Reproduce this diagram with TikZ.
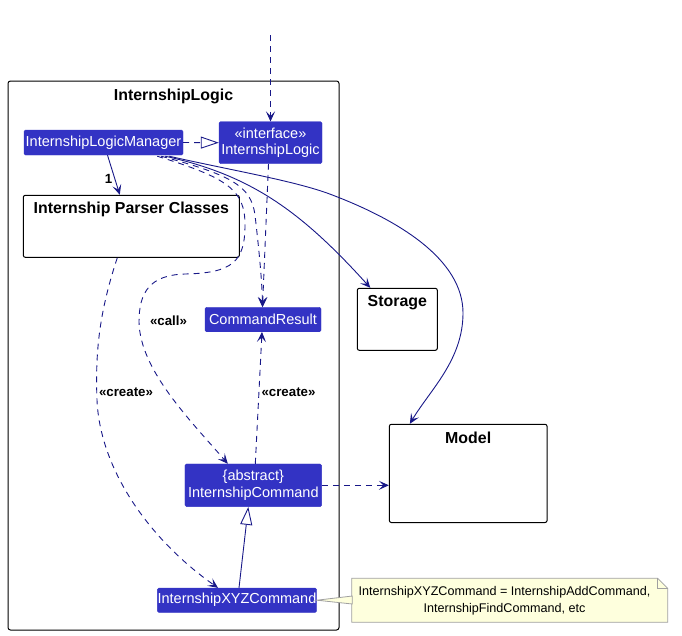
\documentclass[tikz,border=0pt]{standalone}
\usepackage{fontspec}
\setmainfont{Liberation Sans}
\usetikzlibrary{arrows.meta,calc}
\definecolor{logic}{HTML}{3333C4}
\definecolor{arr}{HTML}{181888}
\definecolor{notefill}{HTML}{FEFFDD}
\definecolor{noteline}{HTML}{A0A0A0}
\tikzset{
  cls/.style={fill=logic, draw=logic, text=white, font=\fontsize{14.5}{16.5}\selectfont,
    rounded corners=1.5pt, inner sep=0pt, align=center},
  pkg/.style={draw=black, line width=1pt, rounded corners=2pt, fill=white, inner sep=0pt},
  ptitle/.style={font=\fontsize{15.9}{18}\selectfont\bfseries, anchor=north, inner sep=0pt},
  lbl/.style={font=\fontsize{13.3}{15}\selectfont\bfseries, inner sep=0pt},
  conn/.style={draw=arr, line width=0.9pt},
  dep/.style={conn, dash pattern=on 6pt off 5pt, -{Stealth[length=10pt,width=9pt,inset=4.5pt]}},
  assoc/.style={conn, -{Stealth[length=10pt,width=9pt,inset=4.5pt]}},
  real/.style={conn, dash pattern=on 6pt off 5pt, -{Triangle[open,length=18pt,width=12pt]}},
  inh/.style={conn, -{Triangle[open,length=18pt,width=12pt]}},
}
\begin{document}
\begin{tikzpicture}[x=1pt,y=-1pt]
\useasboundingbox (0,0) rectangle (682,635);
% package frame
\draw[line width=1pt, rounded corners=2.5pt] (8,81) rectangle (339,630);
\node[ptitle] (pkgtitle) at (173.5,88.5) {InternshipLogic};
% nodes
\node[cls, minimum width=159pt, minimum height=25pt] (manager) at (103.5,142.5) {InternshipLogicManager};
\node[cls, minimum width=103pt, minimum height=42pt] (iface) at (270.5,142.7) {«interface»\\InternshipLogic};
\node[cls, minimum width=116pt, minimum height=24.5pt] (result) at (263,319.5) {CommandResult};
\node[cls, minimum width=136.7pt, minimum height=42.7pt] (cmd) at (253.3,485.3) {\{abstract\}\\InternshipCommand};
\node[cls, minimum width=159.4pt, minimum height=24.3pt] (xyz) at (237,600.2) {InternshipXYZCommand};
\node[pkg, minimum width=216pt, minimum height=62pt] (parser) at (131.3,226.3) {};
\node[ptitle] (parsert) at ($(parser.north)+(0,6.5)$) {Internship Parser Classes};
\node[pkg, minimum width=80pt, minimum height=62pt] (storage) at (397.3,319.3) {};
\node[ptitle] (storaget) at ($(storage.north)+(0,7)$) {Storage};
\node[pkg, minimum width=157.7pt, minimum height=98.2pt] (model) at (468.2,473.4) {};
\node[ptitle] (modelt) at ($(model.north)+(0,7.5)$) {Model};
% note
\path (351.7,578.3) coordinate (nA) (667.7,622.3) coordinate (nB);
\draw[draw=noteline, fill=notefill, line width=0.8pt]
  (nA) -- (657.7,578.3) -- (667.7,588.3) -- (nB) -- (351.7,622.3) -- cycle;
\draw[draw=noteline, line width=0.8pt] (657.7,578.3) -- (657.7,588.3) -- (667.7,588.3);
\node[font=\fontsize{12.6}{16.7}\selectfont, align=center, inner sep=0pt] (note) at (504.5,601)
  {InternshipXYZCommand = InternshipAddCommand,\\InternshipFindCommand, etc};
\coordinate (noteW) at (351.7,600);
\draw[draw=noteline, fill=notefill, line width=0.8pt]
  (xyz.east) -- ($(noteW)+(0.6,-4)$) -- ($(noteW)+(0.6,4)$) -- cycle;
% connectors
\coordinate (topstart) at (270.5,35);
\draw[dep] (topstart) -- (iface.north);
\draw[real] (manager.east) -- (iface.west);
\draw[assoc] ($(manager.south)+(4,0)$) -- ($(parser.north)+(-11.5,0)$);
\node[lbl] (one) at (108.5,179) {1};
\draw[dep] ($(iface.south)+(-2,0)$) -- ($(result.north)+(-0.5,0)$);
\draw[dep] ($(manager.south east)+(-22,1)$) .. controls (230,175) and (251,185) .. (255,215)
  .. controls (259,250) and (262,280) .. ($(result.north)+(-0.5,0)$);
\draw[dep] ($(manager.south east)+(-26,1)$) .. controls (228,178) and (245,190) .. (245,225)
  .. controls (245,262) and (232,273) .. (185,274)
  .. controls (150,275) and (139,292) .. (139,322)
  .. controls (140,370) and (190,420) .. ($(cmd.north)+(-25.5,0)$);
\node[lbl] (calllbl) at (168.5,321) {«call»};
\draw[assoc] ($(manager.south east)+(-18,1)$) .. controls (250,175) and (300,210) .. ($(storage.north)+(-27,0)$);
\draw[assoc] ($(manager.south east)+(-14,1)$) .. controls (230,170) and (290,180) .. (327,193)
  .. controls (400,220) and (463,260) .. (463,313)
  .. controls (463,360) and (430,390) .. ($(model.north west)+(21,0)$);
\draw[dep] ($(parser.south)+(-14,0)$) .. controls (100,310) and (95,350) .. (97,400)
  .. controls (100,470) and (150,540) .. ($(xyz.north)+(-19,0)$);
\node[lbl] (createlbl1) at (126,392) {«create»};
\draw[dep] ($(cmd.north)+(2,0)$) -- ($(result.south)+(-1,0)$);
\node[lbl] (createlbl2) at (288.5,392) {«create»};
\draw[dep] (cmd.east) -- (model.west |- cmd.east);
\draw[inh] ($(xyz.north)+(2,0)$) -- ($(cmd.south)+(-5,0)$);
\end{tikzpicture}
\end{document}
